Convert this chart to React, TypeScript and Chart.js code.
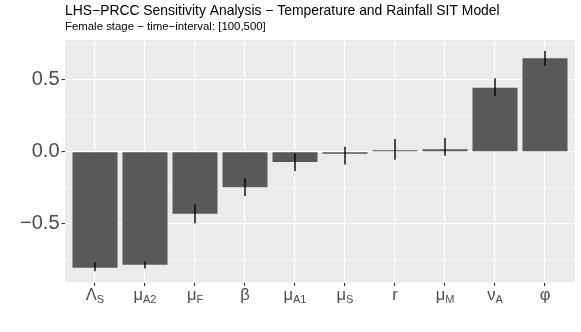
import React, { useEffect, useRef } from "react";
import { Chart, registerables } from "chart.js";

Chart.register(...registerables);

const categoryMain = ["Λ", "μ", "μ", "β", "μ", "μ", "r", "μ", "ν", "φ"];
const categorySub = ["S", "A2", "F", "", "A1", "S", "", "M", "A", ""];
const prccValues = [-0.806, -0.785, -0.43, -0.247, -0.072, -0.014, 0.01, 0.017, 0.444, 0.649];
const errLower = [-0.83, -0.81, -0.497, -0.308, -0.134, -0.088, -0.055, -0.028, 0.387, 0.597];
const errUpper = [-0.77, -0.76, -0.365, -0.185, -0.011, 0.035, 0.088, 0.095, 0.51, 0.70];
const yTickValues = [-0.75, -0.5, -0.25, 0, 0.25, 0.5, 0.75];
const yMajorTicks = [-0.5, 0, 0.5];
const yMajorLabels = ["−0.5", "0.0", "0.5"];
const titleText = "LHS−PRCC Sensitivity Analysis − Temperature and Rainfall SIT Model";
const subtitleText = "Female stage − time−interval: [100,500]";

const FONT = "'Liberation Sans', Arial, Helvetica, sans-serif";

const isMajor = (v: number) => yMajorTicks.some((m) => Math.abs(m - v) < 1e-9);

const backgroundPlugin = {
  id: "panelBackground",
  beforeDraw(chart: any) {
    const { ctx, chartArea, width, height } = chart;
    ctx.save();
    ctx.fillStyle = "#FFFFFF";
    ctx.fillRect(0, 0, width, height);
    ctx.fillStyle = "#EBEBEB";
    ctx.fillRect(chartArea.left, chartArea.top, chartArea.right - chartArea.left, chartArea.bottom - chartArea.top);
    ctx.restore();
  },
};

const errorBarPlugin = {
  id: "errorBars",
  afterDatasetsDraw(chart: any) {
    const { ctx } = chart;
    const xs = chart.scales.x;
    const ys = chart.scales.y;
    ctx.save();
    ctx.strokeStyle = "#000000";
    ctx.lineWidth = 1.4;
    for (let i = 0; i < prccValues.length; i++) {
      const x = xs.getPixelForValue(i);
      ctx.beginPath();
      ctx.moveTo(x, ys.getPixelForValue(errLower[i]));
      ctx.lineTo(x, ys.getPixelForValue(errUpper[i]));
      ctx.stroke();
    }
    ctx.restore();
  },
};

const xLabelPlugin = {
  id: "xLabels",
  afterDraw(chart: any) {
    const { ctx, chartArea } = chart;
    const xs = chart.scales.x;
    const mainFont = `16.5px ${FONT}`;
    const subFont = `11px ${FONT}`;
    const baseY = chartArea.bottom + 17.5;
    ctx.save();
    ctx.fillStyle = "#4D4D4D";
    ctx.textBaseline = "alphabetic";
    ctx.textAlign = "left";
    for (let i = 0; i < categoryMain.length; i++) {
      const x = xs.getPixelForValue(i);
      ctx.font = mainFont;
      const wm = ctx.measureText(categoryMain[i]).width;
      ctx.font = subFont;
      const ws = categorySub[i] ? ctx.measureText(categorySub[i]).width : 0;
      const start = x - (wm + ws) / 2;
      ctx.font = mainFont;
      ctx.fillText(categoryMain[i], start, baseY);
      if (categorySub[i]) {
        ctx.font = subFont;
        ctx.fillText(categorySub[i], start + wm, baseY + 3);
      }
    }
    ctx.restore();
  },
};

export default function App() {
  const ref = useRef<HTMLCanvasElement | null>(null);
  useEffect(() => {
    if (!ref.current) return;
    const chart = new Chart(ref.current, {
      type: "bar",
      data: {
        datasets: [
          {
            data: prccValues.map((v, i) => ({ x: i, y: v })),
            backgroundColor: "#595959",
            borderWidth: 0,
            categoryPercentage: 0.9,
            barPercentage: 1.0,
          },
        ],
      },
      plugins: [backgroundPlugin, errorBarPlugin, xLabelPlugin],
      options: {
        responsive: false,
        animation: false,
        layout: { padding: { left: 0, right: 6, top: 0, bottom: 0 } },
        plugins: {
          legend: { display: false },
          tooltip: { enabled: false },
          title: {
            display: true,
            text: titleText,
            align: "start",
            fullSize: false,
            color: "#000000",
            font: { family: FONT, size: 13.9, weight: "normal", lineHeight: 1.2 },
            padding: { top: 3, bottom: 0 },
          },
          subtitle: {
            display: true,
            text: subtitleText,
            align: "start",
            fullSize: false,
            color: "#000000",
            font: { family: FONT, size: 11.4, weight: "normal", lineHeight: 1.2 },
            padding: { top: 0, bottom: 6.6 },
          },
        },
        scales: {
          x: {
            type: "linear",
            min: -0.6,
            max: 9.6,
            offset: false,
            afterBuildTicks: (scale: any) => {
              scale.ticks = categoryMain.map((_, i) => ({ value: i }));
            },
            afterFit: (scale: any) => {
              scale.height = 49.5;
            },
            ticks: {
              autoSkip: false,
              callback: () => "",
            },
            grid: {
              offset: false,
              color: "#FFFFFF",
              lineWidth: 1.1,
              drawTicks: true,
              tickLength: 3.5,
              tickColor: "#333333",
              tickWidth: 1.1,
            },
            border: { display: false },
          },
          y: {
            type: "linear",
            min: -0.908,
            max: 0.776,
            afterBuildTicks: (scale: any) => {
              scale.ticks = yTickValues.map((v) => ({ value: v }));
            },
            afterFit: (scale: any) => {
              scale.width = 65;
            },
            ticks: {
              autoSkip: false,
              color: "#4D4D4D",
              padding: 2,
              font: { family: FONT, size: 20 },
              callback: (v: any) => {
                const idx = yMajorTicks.findIndex((m) => Math.abs(m - Number(v)) < 1e-9);
                return idx >= 0 ? yMajorLabels[idx] : "";
              },
            },
            grid: {
              offset: false,
              color: "#FFFFFF",
              lineWidth: (c: any) => (c.tick && isMajor(c.tick.value) ? 1.1 : 0.55),
              drawTicks: true,
              tickLength: 3.5,
              tickWidth: 1.1,
              tickColor: (c: any) => (c.tick && isMajor(c.tick.value) ? "#333333" : "rgba(0,0,0,0)"),
            },
            border: { display: false },
          },
        },
      },
    } as any);
    return () => chart.destroy();
  }, []);
  return (
    <div style={{ position: "absolute", left: 0, top: 0, width: 581, height: 332 }}>
      <canvas ref={ref} width={581} height={332} />
    </div>
  );
}
